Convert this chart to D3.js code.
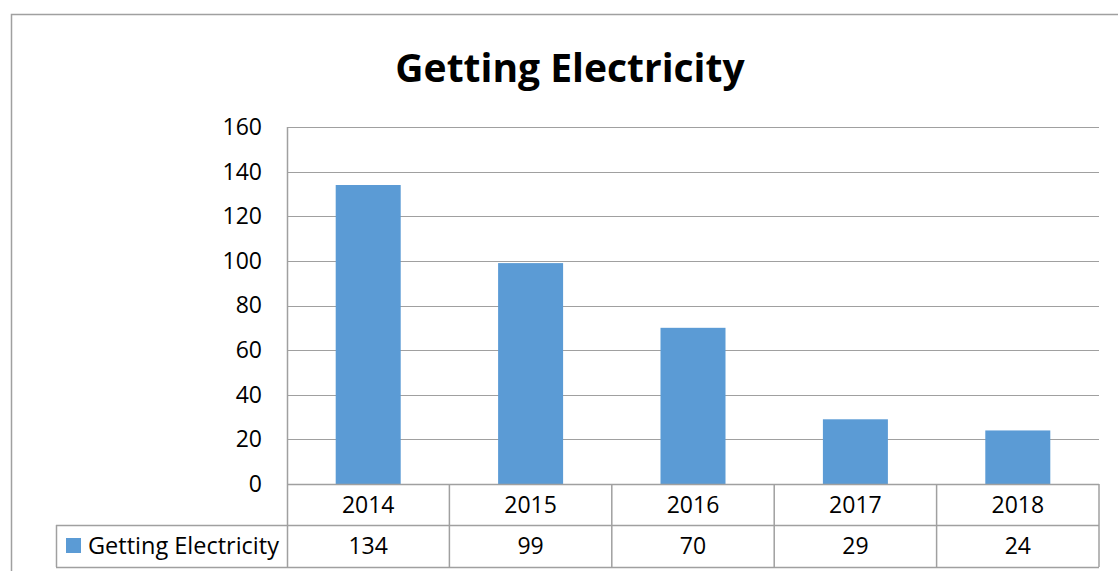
<!DOCTYPE html>
<html>
<head>
<meta charset="utf-8">
<script src="https://cdn.jsdelivr.net/npm/d3@7"></script>
<style>
  body { margin: 0; background: #fff; }
  svg { display: block; font-family: "Open Sans", "Noto Sans", sans-serif; }
</style>
</head>
<body>
<div id="chart"></div>
<script>
const years = [`2014`, `2015`, `2016`, `2017`, `2018`];
const values = [134, 99, 70, 29, 24];
const yTicks = [0, 20, 40, 60, 80, 100, 120, 140, 160];
const seriesName = `Getting Electricity`;
const title = `Getting Electricity`;

const W = 1118, H = 571;
const plotL = 287, plotR = 1099, plotT = 127, plotB = 484;
const row1 = 525, row2 = 567, legendLeft = 56;
const barColor = `#5b9bd5`;
const lineColor = `#a0a0a0`;

const svg = d3.select(`#chart`).append(`svg`)
  .attr(`width`, W)
  .attr(`height`, H);

// outer chart frame
svg.append(`rect`)
  .attr(`x`, 11.5).attr(`y`, 14.5)
  .attr(`width`, W + 20).attr(`height`, H + 20)
  .attr(`fill`, `none`)
  .attr(`stroke`, `#a0a0a0`)
  .attr(`stroke-width`, 1.5);

const x = d3.scaleBand()
  .domain(years)
  .range([plotL, plotR])
  .paddingInner(0)
  .paddingOuter(0);

const y = d3.scaleLinear()
  .domain([0, 160])
  .range([plotB, plotT]);

// gridlines
svg.append(`g`)
  .selectAll(`line`)
  .data(yTicks)
  .enter().append(`line`)
    .attr(`x1`, plotL).attr(`x2`, plotR)
    .attr(`y1`, d => Math.round(y(d)) + 0.5)
    .attr(`y2`, d => Math.round(y(d)) + 0.5)
    .attr(`stroke`, lineColor)
    .attr(`stroke-width`, 1);

// y axis
const yAxis = svg.append(`g`)
  .attr(`transform`, `translate(${plotL},0)`)
  .call(d3.axisLeft(y).tickValues(yTicks).tickSize(0).tickPadding(25));
yAxis.select(`.domain`).remove();
yAxis.selectAll(`text`)
  .attr(`font-size`, 23)
  .attr(`font-family`, `"Open Sans", sans-serif`)
  .attr(`fill`, `#000`);

// bars
const barW = 65;
svg.selectAll(`.bar`)
  .data(values)
  .enter().append(`rect`)
    .attr(`class`, `bar`)
    .attr(`x`, (d, i) => x(years[i]) + (x.bandwidth() - barW) / 2)
    .attr(`width`, barW)
    .attr(`y`, d => y(d))
    .attr(`height`, d => y(0) - y(d))
    .attr(`fill`, barColor);

// plot area left edge
svg.append(`line`)
  .attr(`x1`, plotL + 0.5).attr(`x2`, plotL + 0.5)
  .attr(`y1`, plotT).attr(`y2`, row2)
  .attr(`stroke`, lineColor).attr(`stroke-width`, 1.5);

// data table
const table = svg.append(`g`);
[plotB, row1, row2].forEach(yy => {
  table.append(`line`)
    .attr(`x1`, yy === plotB ? plotL : legendLeft)
    .attr(`x2`, plotR)
    .attr(`y1`, yy + 0.5).attr(`y2`, yy + 0.5)
    .attr(`stroke`, lineColor).attr(`stroke-width`, 1.5);
});
table.selectAll(`.vdiv`)
  .data(years)
  .enter().append(`line`)
    .attr(`class`, `vdiv`)
    .attr(`x1`, d => x(d) + x.bandwidth())
    .attr(`x2`, d => x(d) + x.bandwidth())
    .attr(`y1`, plotB).attr(`y2`, row2)
    .attr(`stroke`, lineColor).attr(`stroke-width`, 1.5);
table.append(`line`)
  .attr(`x1`, legendLeft + 0.5).attr(`x2`, legendLeft + 0.5)
  .attr(`y1`, row1).attr(`y2`, row2)
  .attr(`stroke`, lineColor).attr(`stroke-width`, 1.5);

table.selectAll(`.year`)
  .data(years)
  .enter().append(`text`)
    .attr(`class`, `year`)
    .attr(`x`, d => x(d) + x.bandwidth() / 2)
    .attr(`y`, (plotB + row1) / 2)
    .attr(`dy`, `0.35em`)
    .attr(`text-anchor`, `middle`)
    .attr(`font-size`, 23)
    .text(d => d);

table.selectAll(`.val`)
  .data(values)
  .enter().append(`text`)
    .attr(`class`, `val`)
    .attr(`x`, (d, i) => x(years[i]) + x.bandwidth() / 2)
    .attr(`y`, (row1 + row2) / 2)
    .attr(`dy`, `0.35em`)
    .attr(`text-anchor`, `middle`)
    .attr(`font-size`, 23)
    .text(d => d);

// legend key in table
table.append(`rect`)
  .attr(`x`, 66).attr(`y`, 538)
  .attr(`width`, 15).attr(`height`, 15)
  .attr(`fill`, barColor);
table.append(`text`)
  .attr(`x`, 88)
  .attr(`y`, (row1 + row2) / 2)
  .attr(`dy`, `0.35em`)
  .attr(`font-size`, 23.5)
  .text(seriesName);

// title
svg.append(`text`)
  .attr(`x`, 570)
  .attr(`y`, 82)
  .attr(`text-anchor`, `middle`)
  .attr(`font-size`, 39)
  .attr(`font-weight`, `bold`)
  .text(title);
</script>
</body>
</html>
